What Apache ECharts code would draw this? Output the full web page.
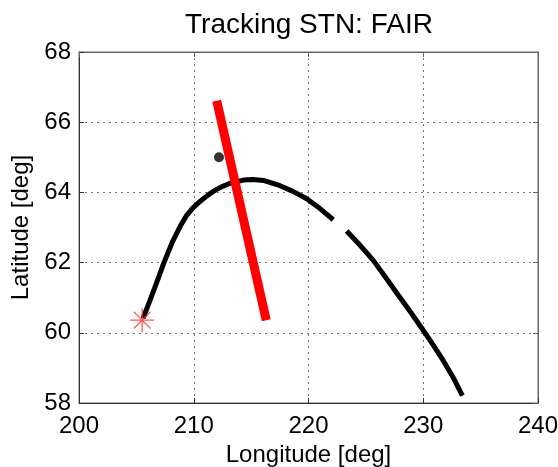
<!DOCTYPE html>
<html>
<head>
<meta charset="utf-8">
<script src="https://cdn.jsdelivr.net/npm/echarts@6/dist/echarts.min.js"></script>
<style>html,body{margin:0;padding:0;background:#fff}#c{width:558px;height:467px}</style>
</head>
<body>
<div id="c"></div>
<script>
const titleText = 'Tracking STN: FAIR';
const xName = 'Longitude [deg]';
const yName = 'Latitude [deg]';
const xTicks = [200, 210, 220, 230, 240];
const yTicks = [58, 60, 62, 64, 66, 68];

// ground track (null = gap)
const trackLon = [205.58, 206.22, 206.8, 207.37, 208.1, 208.83, 209.35, 209.93, 210.57, 211.15, 211.58, 212.02, 212.57, 213.17, 214.33, 215.17, 216.07, 217.52, 218.65, 219.84, 221.0, 222.16,
                  null,
                  223.32, 224.48, 225.63, 226.65, 227.67, 228.83, 229.98, 230.83, 231.72, 232.57, 233.41];
const trackLat = [60.41, 60.95, 61.46, 61.97, 62.56, 63.04, 63.33, 63.56, 63.75, 63.9, 64.0, 64.09, 64.18, 64.26, 64.35, 64.37, 64.34, 64.19, 64.03, 63.82, 63.54, 63.22,
                  null,
                  62.9, 62.5, 62.07, 61.61, 61.14, 60.62, 60.08, 59.67, 59.22, 58.75, 58.21];

// red segment
const redLon = [212.0, 216.32];
const redLat = [66.61, 60.36];

// station dot
const dotLon = [212.2];
const dotLat = [65.0];

// start star
const starLon = [205.5];
const starLat = [60.36];

const zip = (a, b) => a.map((v, i) => (v === null ? [null, null] : [v, b[i]]));

const FONT = "'Liberation Sans', Arial, Helvetica, sans-serif";
const chart = echarts.init(document.getElementById('c'), null, {renderer: 'canvas'});

const gridLine = {show: true, lineStyle: {color: '#777', type: [2, 4], width: 1}};

chart.setOption({
  animation: false,
  backgroundColor: '#fff',
  title: {
    text: titleText,
    left: 180,
    top: 6,
    textStyle: {fontFamily: FONT, fontSize: 28, fontWeight: 'normal', color: '#000'}
  },
  grid: {left: 79, right: 20, top: 52, bottom: 64, show: true, borderColor: '#666', borderWidth: 1,
         containLabel: false, outerBoundsMode: 'none'},
  xAxis: [{
    type: 'value', min: xTicks[0], max: xTicks[xTicks.length - 1], interval: 10,
    name: xName, nameLocation: 'middle', nameGap: 39,
    nameTextStyle: {fontFamily: FONT, fontSize: 24, color: '#000'},
    axisLine: {show: true, lineStyle: {color: '#333', width: 1}},
    axisTick: {show: true, inside: true, length: 5, lineStyle: {color: '#333'}},
    axisLabel: {fontFamily: FONT, fontSize: 24, color: '#000', margin: 11},
    splitLine: gridLine
  }, {
    type: 'value', position: 'top', min: xTicks[0], max: xTicks[xTicks.length - 1], interval: 10,
    axisLine: {show: true, lineStyle: {color: '#666'}},
    axisTick: {show: true, inside: true, length: 5, lineStyle: {color: '#666'}},
    axisLabel: {show: false}, splitLine: {show: false}
  }],
  yAxis: [{
    type: 'value', min: yTicks[0], max: yTicks[yTicks.length - 1], interval: 2,
    name: yName, nameLocation: 'middle', nameGap: 42, nameRotate: 90,
    nameTextStyle: {fontFamily: FONT, fontSize: 24, color: '#000'},
    axisLine: {show: true, lineStyle: {color: '#333', width: 1}},
    axisTick: {show: true, inside: true, length: 5, lineStyle: {color: '#333'}},
    axisLabel: {fontFamily: FONT, fontSize: 24, color: '#000', margin: 8},
    splitLine: gridLine
  }, {
    type: 'value', position: 'right', min: yTicks[0], max: yTicks[yTicks.length - 1], interval: 2,
    axisLine: {show: true, lineStyle: {color: '#666'}},
    axisTick: {show: true, inside: true, length: 5, lineStyle: {color: '#666'}},
    axisLabel: {show: false}, splitLine: {show: false}
  }],
  series: [
    {
      type: 'line', data: zip(trackLon, trackLat), connectNulls: false, symbol: 'none', smooth: false,
      lineStyle: {color: '#000', width: 5, cap: 'butt', join: 'round'}, z: 2
    },
    {
      type: 'scatter', data: zip(dotLon, dotLat), symbol: 'circle', symbolSize: 10,
      itemStyle: {color: '#000'}, z: 3
    },
    {
      type: 'scatter', data: zip(starLon, starLat),
      symbol: 'path://M12 0 L12 24 M0 12 L24 12 M3.6 3.6 L20.4 20.4 M20.4 3.6 L3.6 20.4',
      symbolSize: 24,
      itemStyle: {color: 'none', borderColor: '#ff3030', borderWidth: 1.3}, z: 4
    },
    {
      type: 'line', data: zip(redLon, redLat), symbol: 'none',
      lineStyle: {color: '#ff0000', width: 9, cap: 'butt'}, z: 5
    }
  ]
});
</script>
</body>
</html>
